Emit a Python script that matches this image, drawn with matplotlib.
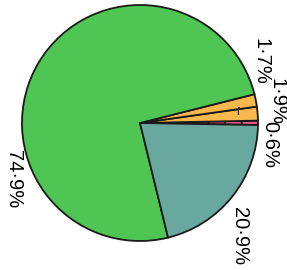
import matplotlib
matplotlib.use("Agg")
import matplotlib.pyplot as plt

categories = ["A", "B", "C", "D", "E"]
values = [0.6, 1.9, 1.7, 74.9, 20.9]
labels = ["0·6%", "1·9%", "1·7%", "74·9%", "20·9%"]
colors = ["#e0577f", "#f7b84e", "#f7b84e", "#4fc653", "#69a89e"]

# label placement (layout, data units relative to pie centre)
label_pos = [(1.102, -0.186), (1.16, 0.178), (1.025, 0.525), (-1.068, -0.475), (0.839, -0.958)]

plt.rcParams['font.family'] = ['Liberation Sans', 'DejaVu Sans']
plt.rcParams['hatch.linewidth'] = 1.5
fig = plt.figure(figsize=(2.87, 2.70), dpi=100)
ax = fig.add_axes([0, 0, 1, 1])
wedges, _ = ax.pie(values, colors=colors, startangle=-1, counterclock=True,
                   radius=1.0, center=(0, 0),
                   wedgeprops=dict(edgecolor="#1a1a1a", linewidth=1.3))
wedges[0].set_hatch('|')
for lab, (x, y) in zip(labels, label_pos):
    ax.text(x, y, lab, rotation=-90, ha='center', va='center', fontsize=14.5, color='black')
ax.text(0.83, 0.09, "f", fontsize=7, ha='center', va='center', color='black')
ax.set_xlim(-140/118, 147/118)
ax.set_ylim(-147/118, 123/118)
ax.set_aspect('auto')
ax.axis('off')
fig.savefig("out.png", dpi=100)
